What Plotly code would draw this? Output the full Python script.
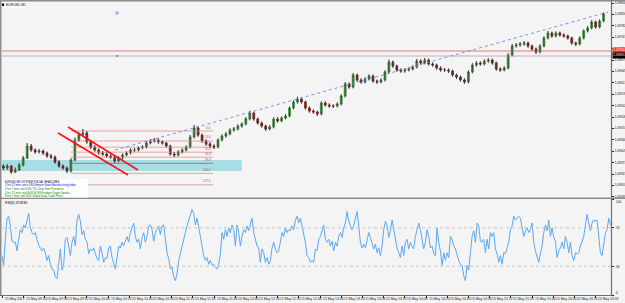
import plotly.graph_objects as go

# ------------------------------------------------------------------ data
symbol_title = "EURUSD,M1"
price_base = 1.09          # prices stored as points (1e-5) above this base
point = 1e-5

# candles (3-minute steps), values in points above 1.09000
opens = [361,355,361,343,349,364,385,421,409,403,406,400,391,388,373,361,355,346,379,439,454,460,433,418,409,400,397,391,388,376,385,394,400,409,409,415,418,430,436,439,433,430,421,397,394,403,409,418,448,475,454,436,427,421,418,439,451,457,469,472,481,487,502,520,502,490,481,472,478,502,496,505,511,535,553,562,553,535,526,523,517,550,544,541,541,547,571,607,598,634,619,613,622,631,616,613,619,643,673,661,649,646,649,652,658,676,670,679,667,664,655,649,649,646,634,628,619,613,643,664,670,667,676,679,670,652,649,655,694,721,724,727,730,721,712,703,721,745,760,751,760,754,751,745,730,727,745,766,775,793,778,796]
closes = [355,361,343,349,364,385,421,409,403,406,400,391,388,373,361,355,346,379,439,454,460,433,418,409,400,397,391,388,376,385,394,400,409,409,415,418,430,436,439,433,430,421,397,394,403,409,418,448,475,454,436,427,421,418,439,451,457,469,472,481,487,502,520,502,490,481,472,478,502,496,505,511,535,553,562,553,535,526,523,517,550,544,541,541,547,571,607,598,634,619,613,622,631,616,613,619,643,673,661,649,646,649,652,658,676,670,679,667,664,655,649,649,646,634,628,619,613,643,664,670,667,676,679,670,652,649,655,694,721,724,727,730,721,712,703,721,745,760,751,760,754,751,745,730,727,745,766,775,793,778,796,817]
highs = [366,367,364,356,370,391,430,427,414,412,410,404,397,392,378,365,359,384,446,462,472,466,438,423,414,406,402,396,392,390,399,405,414,415,420,424,435,442,445,444,438,434,425,402,408,414,423,454,484,480,458,441,432,426,444,456,463,474,478,486,492,508,527,524,506,494,485,484,507,508,510,517,540,558,569,566,557,540,531,527,555,555,549,546,552,576,613,611,640,638,624,627,636,635,620,624,648,680,677,665,654,654,657,663,682,681,685,683,672,668,660,655,654,650,638,632,624,648,670,676,675,681,685,683,674,657,660,699,727,730,733,736,734,725,716,726,750,766,764,765,764,759,755,749,734,750,771,781,799,797,801,822]
lows = [349,350,338,340,346,360,382,404,398,399,394,386,382,368,356,350,340,342,375,434,448,428,412,404,395,391,386,382,370,372,380,390,396,403,405,411,414,426,431,428,425,416,392,388,390,399,405,414,444,449,431,422,416,412,414,435,446,453,464,468,476,483,498,497,485,476,466,468,474,491,492,501,507,531,548,548,530,521,518,511,513,539,536,535,537,543,567,593,594,614,608,609,618,611,608,609,615,639,656,644,641,641,645,648,654,665,666,662,659,650,644,643,640,629,622,614,607,609,639,659,662,663,671,665,647,644,645,651,690,716,719,722,716,707,697,699,717,741,746,747,749,746,740,725,721,723,741,762,771,773,774,792]
candle_step_min = 3

# RSI(8) values read every ~1.26 minutes
rsi = [41,31,58,80,82,72,56,55,55,46,58,68,65,73,70,78,85,70,65,63,65,58,52,49,46,49,44,36,41,32,
       27,26,19,17,36,48,26,32,58,60,51,41,55,61,51,78,84,77,63,67,58,55,43,48,46,49,43,38,36,51,
       44,34,39,38,49,51,39,32,27,39,51,49,55,51,56,61,55,65,70,75,61,55,58,48,60,65,55,61,72,73,
       68,56,65,68,72,63,72,73,61,44,38,27,29,19,15,22,36,44,49,58,65,72,78,84,89,85,73,80,72,61,
       51,41,36,39,32,36,31,32,29,27,32,43,65,58,68,61,70,65,73,68,51,73,65,51,61,68,65,72,67,73,
       80,65,58,51,49,34,48,44,34,39,32,36,49,55,48,44,46,56,65,61,70,65,68,67,72,68,78,82,75,80,
       72,65,55,41,39,34,36,34,48,46,58,61,68,73,58,55,58,51,56,46,55,51,61,65,60,70,75,87,77,72,
       68,72,80,87,72,55,49,53,49,58,65,60,55,48,53,44,49,41,51,68,77,72,60,67,78,67,58,49,44,39,
       51,41,55,58,48,55,51,48,61,68,75,68,58,48,55,68,61,49,51,43,41,70,55,46,31,44,36,44,39,61,
       58,51,48,41,36,32,31,20,15,31,26,44,61,67,55,75,72,56,55,58,44,58,48,65,61,65,48,43,34,41,
       32,44,43,49,55,68,72,82,78,80,82,80,72,61,67,70,65,68,75,55,46,39,34,43,51,65,73,67,78,61,
       70,60,56,39,46,49,55,48,61,55,44,55,41,36,44,43,44,51,56,61,73,84,75,67,75,78,77,78,61,44,
       41,51,65,68,80,73]
rsi_step_min = 1.258
rsi_label = "RSI(8) 29.8280"
rsi_levels = [30, 70]

# axis labels
price_tick_labels = ["1.09850","1.09816","1.09782","1.09747","1.09713","1.09679","1.09645","1.09611",
                     "1.09576","1.09542","1.09508","1.09474","1.09440","1.09405","1.09371","1.09337",
                     "1.09303","1.09269"]
time_tick_min = [0,16,32,48,64,80,96,112,128,144,160,176,192,208,224,240,256,272,288,304,320,336,352,368,384,400,416,432,448]
time_tick_labels = ["15 May 2017","15 May 09:20","15 May 09:36","15 May 09:52","15 May 10:08","15 May 10:24",
                    "15 May 10:40","15 May 10:56","15 May 11:12","15 May 11:28","15 May 11:44","15 May 12:00",
                    "15 May 12:16","15 May 12:32","15 May 12:48","15 May 13:04","15 May 13:20","15 May 13:36",
                    "15 May 13:52","15 May 14:08","15 May 14:24","15 May 14:40","15 May 14:56","15 May 15:12",
                    "15 May 15:28","15 May 15:44","15 May 16:00","15 May 16:16","15 May 16:32"]
rsi_tick_vals = [0, 30, 70, 100]

# chart objects (minutes, points)
hline_red = 706
hline_grey = 691
trend_t = [85.3, 457.4]
trend_v = [409, 823]
channel1_t = [49.8, 102.6]
channel1_v = [478, 349]
channel2_t = [42.3, 95.1]
channel2_v = [460, 334]
fib_t = [52.0, 159.2]
fib_v0 = 466
fib_v100 = 339
fib_levels = [0.0, 23.6, 38.2, 50.0, 61.8, 76.4, 100.0, 127.2, 161.8]
zone_t = [0, 181]
zone_v = [346, 379]
news_lines = ["EURUSD M1 SYSTEM: FISCAL HEADLINES",
              "2 hrs 22 mins since USD Empire State Manufacturing Index",
              "4 hrs 7 mins until USD TIC Long-Term Purchases",
              "4 hrs 52 mins until EUR ECB President Draghi Speaks",
              "8 hrs 7 mins until NZD Global Dairy Trade Prices"]
news_colors = ["#000000", "#0000ff", "#008000", "#008000", "#008000"]

# ------------------------------------------------------------------ helpers
W, H = 625, 303
def px_x(x): return x / W
def px_y(y): return 1 - y / H
def P(v): return price_base + v * point

FONT = "Liberation Sans, Arial, sans-serif"
X_MAX = 459.6
RSI_TOP, RSI_BOT = 199.0, 295.0

candle_t = [1 + candle_step_min * k for k in range(len(closes))]
rsi_t = [rsi_step_min * i for i in range(len(rsi))]

fig = go.Figure()

# cyan zone
fig.add_shape(type="rect", xref="x", yref="y", x0=zone_t[0], x1=zone_t[1],
              y0=P(zone_v[0]), y1=P(zone_v[1]), fillcolor="#a9dde4", line_width=0, layer="below")

# fib lines
for lv in fib_levels:
    v = fib_v0 - lv / 100 * (fib_v0 - fib_v100)
    col = "#7d8c99" if lv == 76.4 else "#e3a3a3"
    fig.add_trace(go.Scatter(x=fib_t, y=[P(v), P(v)], mode="lines",
                             line=dict(color=col, width=1), hoverinfo="skip", showlegend=False))
    fig.add_annotation(x=fib_t[1], y=P(v), xref="x", yref="y", text="%.1f" % lv,
                       showarrow=False, xanchor="right", yanchor="bottom",
                       font=dict(size=3, color="#b05050", family=FONT), yshift=-0.5)

# horizontal lines
for v, c in [(hline_red, "#e77a7a"), (hline_grey, "#aeb6c6")]:
    fig.add_trace(go.Scatter(x=[0, X_MAX], y=[P(v), P(v)], mode="lines",
                             line=dict(color=c, width=1.2), hoverinfo="skip", showlegend=False))

# wicks
wx, wy = [], []
for t, h, l in zip(candle_t, highs, lows):
    wx += [t, t, None]
    wy += [P(l), P(h), None]
fig.add_trace(go.Scatter(x=wx, y=wy, mode="lines", line=dict(color="#3a3a3a", width=0.8),
                         hoverinfo="skip", showlegend=False))

fig.add_trace(go.Candlestick(
    x=candle_t, open=[P(v) for v in opens], high=[P(v) for v in highs],
    low=[P(v) for v in lows], close=[P(v) for v in closes],
    increasing=dict(line=dict(color="#2d6e2d", width=0.6), fillcolor="#3fae3f"),
    decreasing=dict(line=dict(color="#5a1010", width=0.6), fillcolor="#b02020"),
    whiskerwidth=0, showlegend=False, hoverinfo="skip"))

# trend line and channel
fig.add_trace(go.Scatter(x=trend_t, y=[P(v) for v in trend_v], mode="lines",
                         line=dict(color="#7c7cf0", width=0.9, dash="dot"), hoverinfo="skip", showlegend=False))
for tt, vv in [(channel1_t, channel1_v), (channel2_t, channel2_v)]:
    fig.add_trace(go.Scatter(x=tt, y=[P(v) for v in vv], mode="lines",
                             line=dict(color="#ff1010", width=1.5), hoverinfo="skip", showlegend=False))
fig.add_trace(go.Scatter(x=[86.8], y=[P(820)], mode="markers",
                         marker=dict(symbol="square", size=3, color="#a6a6e8"), hoverinfo="skip", showlegend=False))
fig.add_trace(go.Scatter(x=[86.8], y=[P(691)], mode="markers",
                         marker=dict(symbol="square", size=2, color="#ff6060"), hoverinfo="skip", showlegend=False))

# RSI
fig.add_trace(go.Scatter(x=rsi_t, y=rsi, mode="lines", xaxis="x2", yaxis="y2",
                         line=dict(color="#5aa8f2", width=1), hoverinfo="skip", showlegend=False))
for lv in rsi_levels:
    fig.add_trace(go.Scatter(x=[0, X_MAX], y=[lv, lv], mode="lines", xaxis="x2", yaxis="y2",
                             line=dict(color="#c4c4c4", width=1, dash="dot"), hoverinfo="skip", showlegend=False))

dom_x = [px_x(2), px_x(611)]
fig.update_layout(
    width=W, height=H, margin=dict(l=0, r=0, t=0, b=0),
    paper_bgcolor="#f4f4f4", plot_bgcolor="#f4f4f4",
    font=dict(family=FONT, size=3.3, color="#000"),
    xaxis=dict(domain=dom_x, range=[0, X_MAX], showticklabels=False, showgrid=False,
               zeroline=False, ticks="", rangeslider=dict(visible=False), anchor="y"),
    yaxis=dict(domain=[px_y(197.5), px_y(2)], range=[P(266.5), P(853)], side="right",
               tickvals=[float(s) for s in price_tick_labels], ticktext=price_tick_labels,
               ticks="outside", ticklen=2, tickcolor="#222", tickwidth=1,
               showgrid=False, zeroline=False, automargin=False,
               tickfont=dict(size=3.2, family=FONT, color="#111"), anchor="x"),
    xaxis2=dict(domain=dom_x, range=[0, X_MAX], tickvals=time_tick_min, showticklabels=False,
                ticks="outside", ticklen=1.5, tickcolor="#222", showgrid=False, zeroline=False,
                automargin=False, anchor="y2"),
    yaxis2=dict(domain=[px_y(RSI_BOT), px_y(RSI_TOP)], range=[0, 100], side="right",
                tickvals=rsi_tick_vals, showticklabels=False,
                ticks="outside", ticklen=2, tickcolor="#222", showgrid=False, zeroline=False,
                automargin=False, anchor="x2"),
)

# date labels (left-aligned after each tick, like the terminal draws them)
for t, lab in zip(time_tick_min, time_tick_labels):
    fig.add_annotation(x=t, y=px_y(298.6), xref="x2", yref="paper", text=lab, showarrow=False,
                       xanchor="left", yanchor="middle", xshift=0.5,
                       font=dict(size=3.4, family=FONT, color="#111"))

# RSI scale labels (kept inside the window)
rsi_label_y = {100: 202.0, 70: 228.0, 30: 267.0, 0: 292.5}
for v in rsi_tick_vals:
    fig.add_annotation(x=px_x(614), y=px_y(rsi_label_y[v]), xref="paper", yref="paper", text=str(v),
                       showarrow=False, xanchor="left", yanchor="middle",
                       font=dict(size=3.2, family=FONT, color="#111"))

# frame lines
frame = dict(xref="paper", yref="paper", type="line")
fig.add_shape(**frame, x0=0, x1=1, y0=px_y(0.7), y1=px_y(0.7), line=dict(color="#8c8c8c", width=1.5))
fig.add_shape(**frame, x0=px_x(0.7), x1=px_x(0.7), y0=px_y(0), y1=px_y(296), line=dict(color="#8c8c8c", width=1.5))
fig.add_shape(**frame, x0=px_x(611.5), x1=px_x(611.5), y0=px_y(0), y1=px_y(296), line=dict(color="#707070", width=1.2))
fig.add_shape(**frame, x0=0, x1=1, y0=px_y(198.3), y1=px_y(198.3), line=dict(color="#8c8c8c", width=1.5))
fig.add_shape(**frame, x0=0, x1=px_x(611.5), y0=px_y(295.5), y1=px_y(295.5), line=dict(color="#707070", width=1))

# title
fig.add_shape(type="rect", xref="paper", yref="paper", x0=px_x(2), x1=px_x(4), y0=px_y(6), y1=px_y(3.5),
              fillcolor="#000", line_width=0)
fig.add_annotation(x=px_x(5), y=px_y(4.7), xref="paper", yref="paper", text=symbol_title, showarrow=False,
                   xanchor="left", yanchor="middle", font=dict(size=3.4, family=FONT, color="#000"),
                   bgcolor="#ffffff", borderpad=0)
fig.add_annotation(x=px_x(3), y=px_y(202.5), xref="paper", yref="paper", text=rsi_label, showarrow=False,
                   xanchor="left", yanchor="middle", font=dict(size=3.3, family=FONT, color="#000"))

# news box
fig.add_shape(type="rect", xref="paper", yref="paper", x0=px_x(2), x1=px_x(88), y0=px_y(197.5), y1=px_y(179),
              fillcolor="#ffffff", line_width=0)
for i, (txt, col) in enumerate(zip(news_lines, news_colors)):
    fig.add_annotation(x=px_x(3), y=px_y(181.8 + i * 3.6), xref="paper", yref="paper", text=txt,
                       showarrow=False, xanchor="left", yanchor="middle",
                       font=dict(size=2.7, family=FONT, color=col))

# price labels for lines
for v, bg in [(hline_red, "#ff2a2a"), (hline_grey, "#000000")]:
    fig.add_annotation(x=px_x(612), y=P(v), xref="paper", yref="y", text="%.5f" % P(v), showarrow=False,
                       xanchor="left", yanchor="middle", bgcolor=bg, borderpad=0.3,
                       font=dict(size=3.2, family=FONT, color="#ffffff"))

fig.write_html("out.html", config={"displayModeBar": False})
